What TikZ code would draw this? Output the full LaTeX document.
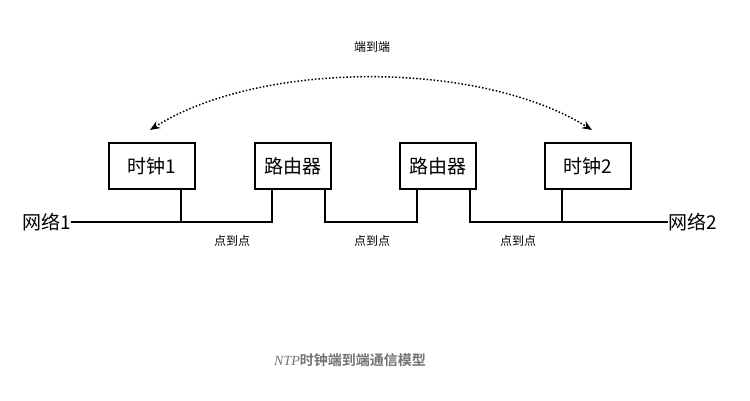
\documentclass[tikz,border=0pt]{standalone}
\usepackage{fontspec}
\setmainfont{Liberation Sans}
\newfontfamily\cjk{Noto Sans CJK SC}
\newfontfamily\cjkbold{Noto Sans CJK SC Bold}
\usetikzlibrary{positioning,arrows.meta}
\begin{document}
\begin{tikzpicture}[x=1pt,y=-1pt,
                box/.style={rectangle, draw=black, line width=1.6pt, minimum width=86pt, minimum height=46pt, font=\cjk\fontsize{19}{19}\selectfont, inner sep=0pt},
                lbl/.style={font=\cjk\fontsize{12}{12}\selectfont, inner sep=0pt},
                net/.style={font=\cjk\fontsize{19}{19}\selectfont, inner sep=0pt},
                link/.style={line width=1.6pt}
            ]
            \useasboundingbox (0,0) rectangle (750,400);

            %blocks
            \node[box]  (clk1)  at (152,166) {时钟1};
            \node[box, minimum width=76pt]  (r1)    at (293,166) {路由器};
            \node[box, minimum width=76pt]  (r2)    at (438,166) {路由器};
            \node[box]  (clk2)  at (588,166) {时钟2};

            %network ends
            \node[net, anchor=east] (n1) at (71,222) {网络1};
            \node[net, anchor=west] (n2) at (668,222) {网络2};

            %links
            \coordinate (j1) at (181,222);
            \coordinate (j2) at (562,222);
            \draw[link] (n1.east) -- (j1) -| (r1.south -| 272,0);
            \draw[link] (clk1.south -| j1) -- (j1);
            \draw[link] (r1.south -| 325,0) |- (417,222) -- (r2.south -| 417,0);
            \draw[link] (r2.south -| 470,0) |- (j2) -- (n2.west);
            \draw[link] (clk2.south -| j2) -- (j2);

            \node[lbl] (p1) at (232,241) {点到点};
            \node[lbl] (p2) at (372,241) {点到点};
            \node[lbl] (p3) at (518,241) {点到点};

            %end to end
            \draw[{Stealth[length=10pt,width=8pt]}-{Stealth[length=10pt,width=8pt]}, line width=1.5pt, dotted]
                (150,130) .. controls (260,60) and (480,60) .. (592,130);
            \node[lbl] (e2e) at (372,47) {端到端};

            %caption
            \node[text=black!55] (cap) at (350,360)
                {\fontspec{Liberation Serif}\itshape\fontsize{14}{14}\selectfont NTP\cjkbold\fontsize{14}{14}\selectfont 时钟端到端通信模型};
\end{tikzpicture}
\end{document}
